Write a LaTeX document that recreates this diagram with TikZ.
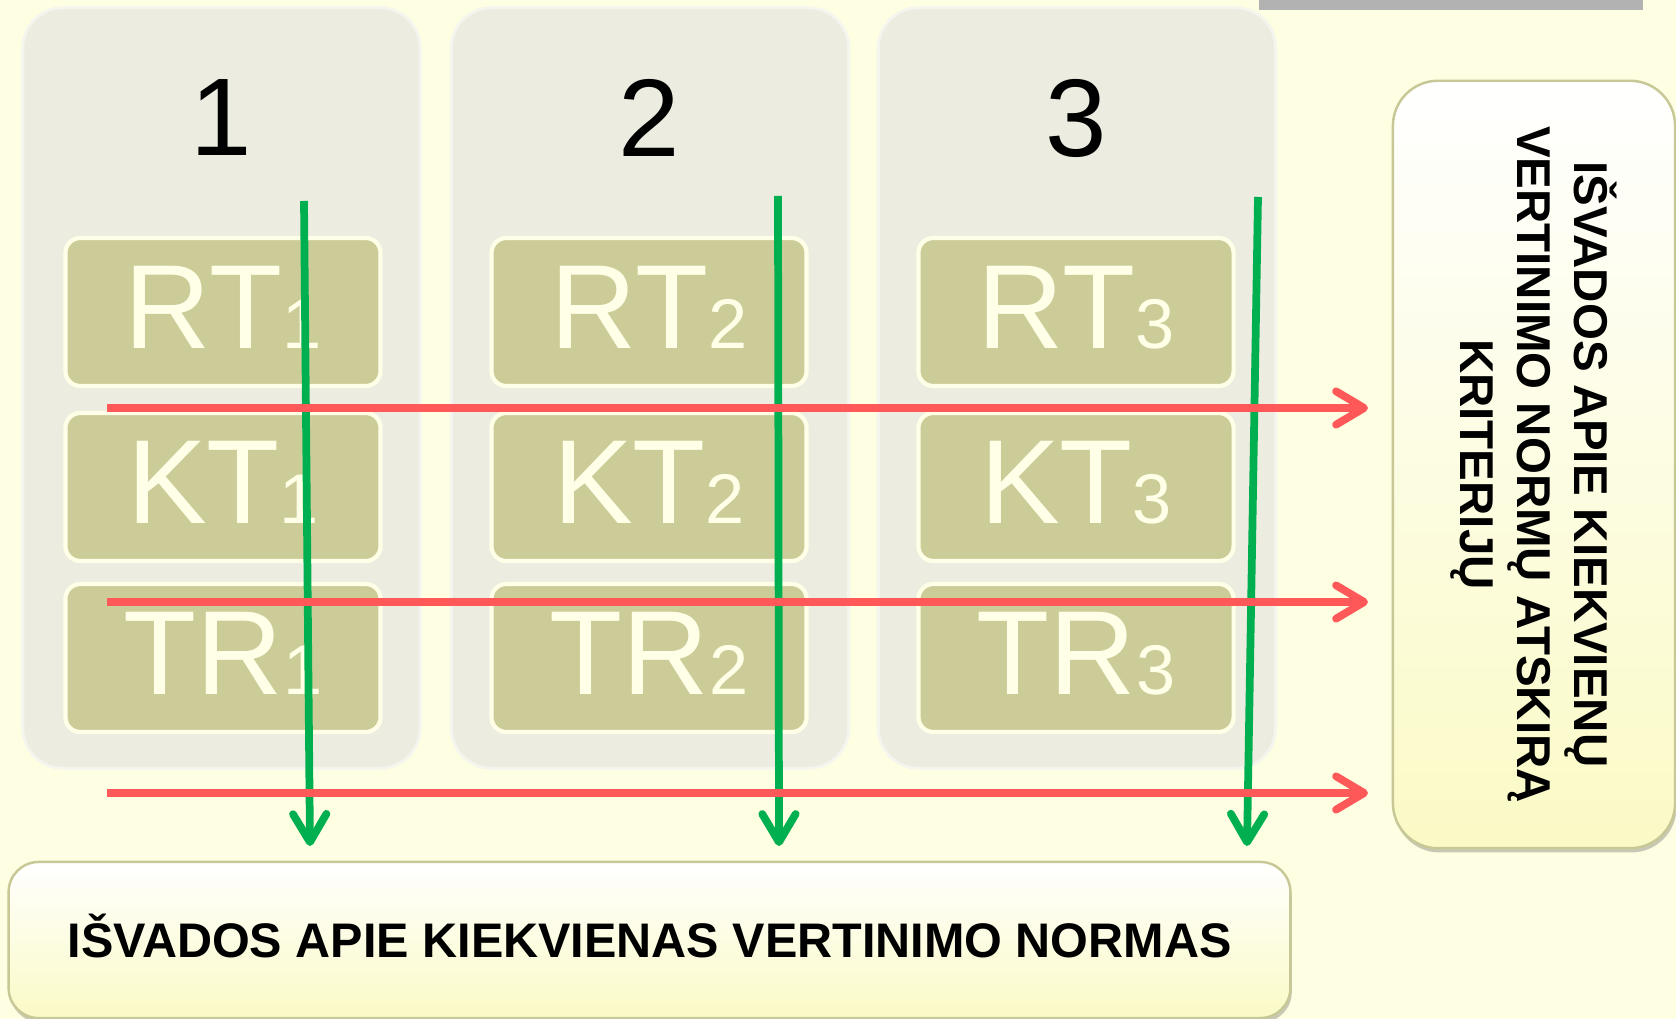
\documentclass[tikz,border=0pt]{standalone}
\usepackage{fontspec}
\setmainfont{Liberation Sans}
\usetikzlibrary{arrows.meta,shadows}
\definecolor{bgyellow}{RGB}{254,254,226}
\definecolor{colgray}{RGB}{236,236,224}
\definecolor{olive}{RGB}{204,204,153}
\definecolor{cream}{RGB}{255,255,232}
\definecolor{arrowred}{RGB}{255,88,88}
\definecolor{arrowgreen}{RGB}{0,176,80}
\definecolor{boxyellow}{RGB}{250,250,198}
\definecolor{boxedge}{RGB}{200,200,150}
\definecolor{bargray}{RGB}{178,178,178}
\newcommand{\tlbl}[2]{{\fontsize{34}{34}\selectfont #1}{\fontsize{20}{20}\selectfont #2}}
\tikzset{
  colbox/.style={rounded corners=0.4cm,fill=colgray,draw=colgray!50!white,line width=0.8pt,
    minimum width=3.97cm,minimum height=7.6cm},
  tbox/.style={rounded corners=0.15cm,fill=olive,draw=cream,line width=1.2pt,
    minimum width=3.15cm,minimum height=1.48cm,inner sep=0pt,
    text=cream,text height=24.5pt,text depth=4pt},
  sumbox/.style={rounded corners=0.3cm,draw=boxedge,line width=0.7pt,
    top color=white,bottom color=boxyellow,
    drop shadow={shadow xshift=0.4pt,shadow yshift=-1.2pt,opacity=.35,fill=black!60},
    align=center},
  redarr/.style={draw=arrowred,line width=2.2pt,-{Straight Barb[length=8pt,width=9.5pt,round]}},
  greenarr/.style={draw=arrowgreen,line width=2.2pt,-{Straight Barb[length=8pt,width=9.5pt,round]}}
}
\begin{document}
\begin{tikzpicture}[x=0.01cm,y=-0.01cm]
  \fill[bgyellow] (0,0) rectangle (1676,1019);
  \useasboundingbox (0,0) rectangle (1676,1019);
  \fill[bargray] (1259,0) rectangle (1643,10);
  % columns
  \node[colbox] (C1) at (221.5,388) {};
  \node[colbox] (C2) at (650,388) {};
  \node[colbox] (C3) at (1077,388) {};
  \node (N1) at (221,118) {\fontsize{31.4}{31.4}\selectfont 1};
  \node (N2) at (649,118) {\fontsize{31.4}{31.4}\selectfont 2};
  \node (N3) at (1076,118) {\fontsize{31.4}{31.4}\selectfont 3};
  \node[tbox] (RT1) at (223,312) {\tlbl{RT}{1}};
  \node[tbox] (KT1) at (223,487) {\tlbl{KT}{1}};
  \node[tbox] (TR1) at (223,658) {\tlbl{TR}{1}};
  \node[tbox] (RT2) at (649,312) {\tlbl{RT}{2}};
  \node[tbox] (KT2) at (649,487) {\tlbl{KT}{2}};
  \node[tbox] (TR2) at (649,658) {\tlbl{TR}{2}};
  \node[tbox] (RT3) at (1076,312) {\tlbl{RT}{3}};
  \node[tbox] (KT3) at (1076,487) {\tlbl{KT}{3}};
  \node[tbox] (TR3) at (1076,658) {\tlbl{TR}{3}};
  % result boxes
  \node[sumbox,minimum width=12.81cm,minimum height=1.56cm,text height=9.9pt,text depth=0pt,
    font=\fontsize{13.8}{16.2}\selectfont\bfseries]
    (B) at (649.5,940) {IŠVADOS APIE KIEKVIENAS VERTINIMO NORMAS};
  \node[sumbox,rounded corners=0.45cm,rotate=-90,minimum width=7.67cm,minimum height=2.82cm,
    font=\fontsize{13.5}{16.2}\selectfont\bfseries]
    (R) at (1534,464.5) {IŠVADOS APIE KIEKVIENŲ\\VERTINIMO NORMŲ ATSKIRĄ\\KRITERIJŲ};
  % arrows
  \coordinate (G1) at (304,201);
  \coordinate (G2) at (778,196);
  \coordinate (G3) at (1258,197);
  \coordinate (H1) at (310,846);
  \coordinate (H2) at (779,846);
  \coordinate (H3) at (1247,846);
  \draw[greenarr] (G1) -- (H1);
  \draw[greenarr] (G2) -- (H2);
  \draw[greenarr] (G3) -- (H3);
  \coordinate (S1) at (107,408);
  \coordinate (S2) at (107,602);
  \coordinate (S3) at (107,793);
  \coordinate (E1) at (1368,408);
  \coordinate (E2) at (1368,602);
  \coordinate (E3) at (1368,793);
  \draw[redarr] (S1) -- (E1);
  \draw[redarr] (S2) -- (E2);
  \draw[redarr] (S3) -- (E3);
\end{tikzpicture}
\end{document}
